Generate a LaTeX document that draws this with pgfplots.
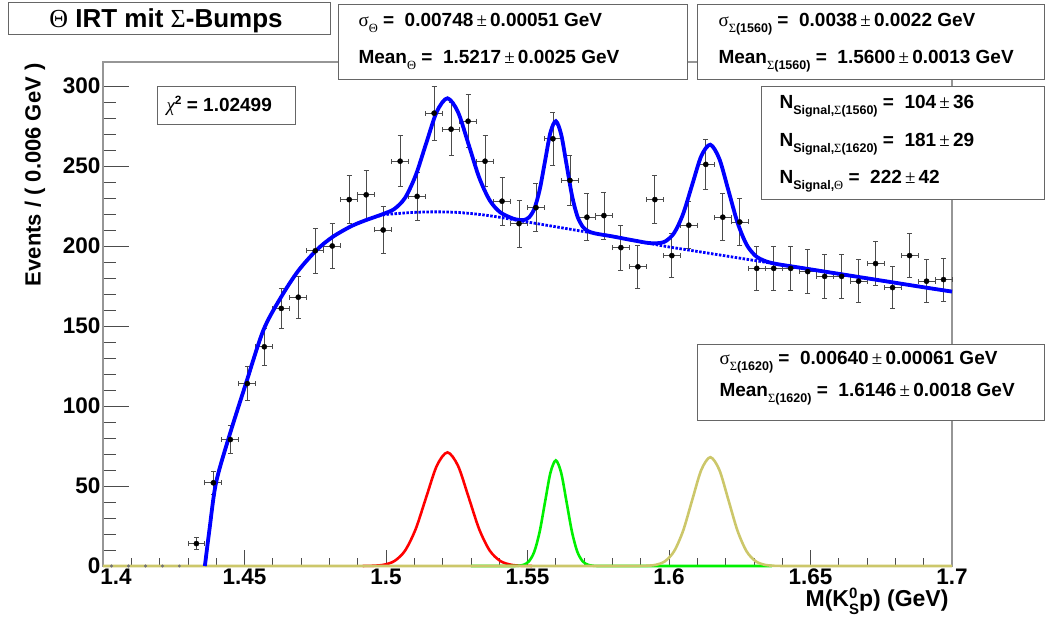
\documentclass[border=0pt]{standalone}
\usepackage{pgfplots}
\usepackage{pgfplotstable}
\pgfplotsset{compat=1.18}
\usepackage{fontspec}
\setmainfont{Liberation Sans}
\newfontfamily\grk{Liberation Serif}
\newcommand{\G}[1]{{\grk\mdseries #1}}
\newcommand{\sub}[1]{\raisebox{-6pt}{\fontsize{12.5}{13}\selectfont #1}}
\newcommand{\pmm}{\,{\grk\mdseries ±}\,}
\newcommand{\bxf}{\fontsize{19}{22}\selectfont\bfseries}
\definecolor{rblue}{RGB}{0,0,255}
\definecolor{rred}{RGB}{255,0,0}
\definecolor{rgreen}{RGB}{0,240,0}
\definecolor{rkhaki}{RGB}{204,199,106}
\definecolor{frame}{RGB}{150,150,150}

\pgfplotstableread{
x y ey
1.433 14 3.74
1.439 52 7.21
1.445 79 8.89
1.451 114 10.68
1.457 137 11.70
1.463 161 12.69
1.469 168 12.96
1.475 197 14.04
1.481 200 14.14
1.487 229 15.13
1.493 232 15.23
1.499 210 14.49
1.505 253 15.91
1.511 231 15.20
1.517 283 16.82
1.523 273 16.52
1.529 278 16.67
1.535 253 15.91
1.541 228 15.10
1.547 214 14.63
1.553 224 14.97
1.559 267 16.34
1.565 241 15.52
1.571 218 14.76
1.577 219 14.80
1.583 199 14.11
1.589 187 13.67
1.595 229 15.13
1.601 194 13.93
1.607 213 14.59
1.613 251 15.84
1.619 218 14.76
1.625 215 14.66
1.631 186 13.64
1.637 186 13.64
1.643 186 13.64
1.649 184 13.56
1.655 181 13.45
1.661 181 13.45
1.667 178 13.34
1.673 189 13.75
1.679 174 13.19
1.685 194 13.93
1.691 178 13.34
1.697 179 13.38
}\data

\begin{document}
\begin{tikzpicture}
\useasboundingbox (0,0) rectangle (1046pt,626pt);
% y ticks (long inward ticks)
\begin{axis}[at={(103pt,60pt)},anchor=south west,scale only axis,
  width=849pt,height=504pt,
  xmin=1.4,xmax=1.7,ymin=0,ymax=315,
  xtick=\empty,
  ytick={0,50,100,150,200,250,300},
  yticklabels={0,50,100,150,200,250,300},
  minor y tick num=4, ytick pos=left, tick align=inside,
  major tick length=26pt, minor tick length=13pt,
  axis line style={frame,line width=1.2pt},
  tick style={black!70,line width=0.8pt},
  yticklabel style={font=\fontsize{22.5}{23}\selectfont\bfseries, xshift=1pt}]
\end{axis}
% main axis with data and x ticks
\begin{axis}[at={(103pt,60pt)},anchor=south west,scale only axis,
  width=849pt,height=504pt,
  xmin=1.4,xmax=1.7,ymin=0,ymax=315,
  ytick=\empty,
  xtick={1.4,1.45,1.5,1.55,1.6,1.65,1.7},
  xticklabels={\hspace*{26pt}1.4,1.45,1.5,1.55,1.6,1.65,1.7},
  minor x tick num=4, xtick pos=left, tick align=inside,
  major tick length=16pt, minor tick length=8pt,
  axis line style={frame,line width=1.2pt},
  tick style={black!70,line width=0.8pt},
  xticklabel style={font=\fontsize{22.5}{23}\selectfont\bfseries, yshift=1pt},
  clip=false]
% empty bins
\addplot[only marks, mark=*, mark size=1.3pt, black!55]
  coordinates {(1.403,0)(1.409,0)(1.415,0)(1.421,0)(1.427,0)};
% data
\addplot[only marks, mark=*, mark size=2.6pt, black,
  error bars/.cd, x dir=both, x fixed=0.003, y dir=both, y explicit,
  error bar style={black!70,line width=0.8pt},
  error mark options={black!70,line width=0.8pt,mark size=2.5pt,rotate=90}]
  table[x=x,y=y,y error=ey]{\data};
% Theta gaussian
\addplot[rred, line width=2.6pt, smooth] coordinates {
(1.49178,0.024)(1.49552,0.155)(1.49926,0.79)(1.503,3.12)
(1.50674,9.61)(1.51048,23.05)(1.51422,43.06)(1.51796,62.66)(1.5217,71)
(1.52544,62.66)(1.52918,43.06)(1.53292,23.05)(1.53666,9.61)(1.5404,3.12)
(1.54414,0.79)(1.54788,0.155)(1.55162,0.024)};
% Sigma(1560) gaussian
\addplot[rgreen, line width=2.6pt, smooth] coordinates {
(1.53,0)(1.5448,0.022)(1.5467,0.144)(1.5486,0.733)(1.5505,2.90)
(1.5524,8.93)(1.5543,21.43)(1.5562,40.03)(1.5581,58.25)(1.56,66)
(1.5619,58.25)(1.5638,40.03)(1.5657,21.43)(1.5676,8.93)(1.5695,2.90)
(1.5714,0.733)(1.5733,0.144)(1.5752,0.022)(1.59,0)(1.6364,0)};
% Sigma(1620) gaussian
\addplot[rkhaki, line width=2.6pt, smooth] coordinates {
(1.4,0)(1.5,0)(1.575,0)(1.5890,0.023)(1.5922,0.149)(1.5954,0.755)(1.5986,2.99)
(1.6018,9.20)(1.6050,22.08)(1.6082,41.24)(1.6114,60.01)(1.6146,68)
(1.6178,60.01)(1.6210,41.24)(1.6242,22.08)(1.6274,9.20)(1.6306,2.99)
(1.6338,0.755)(1.6370,0.149)(1.6402,0.023)(1.655,0)(1.7,0)};
% background (dotted)
\addplot[rblue, line width=2.8pt, dash pattern=on 2.5pt off 1.5pt, smooth] coordinates {
(1.4360,0)(1.4376,22.5)(1.4399,51.7)(1.4443,79.4)(1.4504,113.5)(1.4567,147.5)
(1.4630,168.3)(1.4690,184.5)(1.4755,197.5)(1.4810,205.5)(1.4873,212)
(1.4930,216.3)(1.4990,219.4)(1.505,220.4)(1.510,221)(1.515,221.3)(1.520,221.3)
(1.525,221)(1.530,220.3)(1.535,219.3)(1.540,218)(1.545,216.5)(1.550,215)
(1.555,213.5)(1.560,212)(1.565,210.5)(1.570,209)(1.575,207.5)(1.580,206)
(1.585,204.3)(1.590,202.6)(1.595,201)(1.600,199.4)(1.605,198)(1.610,196.6)
(1.615,195.2)(1.620,193.8)(1.625,192.4)(1.630,191)(1.640,188.2)(1.650,185.4)
(1.660,182.6)(1.670,179.8)(1.680,177)(1.690,174.2)(1.700,171.5)};
% total fit
\addplot[rblue, line width=3.8pt, smooth] coordinates {
(1.4360,0)(1.4376,22.5)(1.4399,51.7)(1.4443,79.4)(1.4504,113.5)(1.4567,147.5)
(1.4630,168.3)(1.4690,184.5)(1.4755,197.5)(1.4810,205.5)(1.4873,212)
(1.49178,215.4)(1.49552,217.8)(1.49926,220.2)(1.50300,223.2)(1.50674,230.1)
(1.51048,244.1)(1.51422,264.3)(1.51796,284.0)(1.52170,292.3)(1.52544,283.7)
(1.52918,263.5)(1.53292,242.8)(1.53666,228.5)(1.54040,221.0)(1.5448,217.2)
(1.5467,216.4)(1.5486,216.2)(1.5505,217.8)(1.5524,223.2)(1.5543,235.1)
(1.5562,253.1)(1.5581,270.9)(1.5600,278.0)(1.5619,269.7)(1.5638,250.9)
(1.5657,231.7)(1.5676,218.7)(1.5695,212.1)(1.5714,209.3)(1.5733,208.1)
(1.5752,207.4)(1.580,206)(1.585,204.3)(1.5890,203.0)(1.5922,202.0)
(1.5954,201.7)(1.5986,202.8)(1.6018,208.1)(1.6050,220.1)(1.6082,238.3)
(1.6114,256.2)(1.6146,263.3)(1.6178,254.4)(1.6210,234.7)(1.6242,214.7)
(1.6274,200.9)(1.6306,193.8)(1.6338,190.7)(1.6370,189.1)(1.6402,188.1)
(1.645,186.8)(1.650,185.4)(1.660,182.6)(1.670,179.8)(1.680,177)(1.690,174.2)
(1.700,171.5)};
\end{axis}
% axis titles
\node[rotate=90, anchor=east, font=\fontsize{22}{22}\selectfont\bfseries]
  at (35pt,566pt) {Events / ( 0.006 GeV )};
\node[anchor=base east, font=\fontsize{23}{23}\selectfont\bfseries] at (952pt,19pt)
  {M(K\rlap{\raisebox{9pt}{\fontsize{15}{15}\selectfont 0}}\raisebox{-7pt}{\fontsize{15}{15}\selectfont S}p) (GeV)};
% boxes
\tikzset{rbox/.style={draw=black!60, line width=1pt, fill=white}}
\draw[rbox] (8pt,591pt) rectangle (330pt,623pt);
\node[anchor=base, font=\fontsize{26}{26}\selectfont\bfseries] at (166pt,598pt)
  {\G{Θ} IRT mit \G{Σ}-Bumps};
\draw[rbox] (338pt,546pt) rectangle (687pt,621pt);
\node[anchor=base west, font=\bxf] at (355pt,599pt)
  {\G{σ}\sub{\G{Θ}} = \ 0.00748\pmm0.00051 GeV};
\node[anchor=base west, font=\bxf] at (355pt,562pt)
  {Mean\sub{\G{Θ}} = \ 1.5217\pmm0.0025 GeV};
\draw[rbox] (697pt,546pt) rectangle (1044pt,621pt);
\node[anchor=base west, font=\bxf] at (715pt,599pt)
  {\G{σ}\sub{\G{Σ}(1560)} = \ 0.0038\pmm0.0022 GeV};
\node[anchor=base west, font=\bxf] at (715pt,562pt)
  {Mean\sub{\G{Σ}(1560)} = \ 1.5600\pmm0.0013 GeV};
\draw[rbox] (761pt,426pt) rectangle (1044pt,539pt);
\node[anchor=base west, font=\bxf] at (776pt,517pt)
  {N\sub{Signal,\G{Σ}(1560)} = \ 104\pmm36};
\node[anchor=base west, font=\bxf] at (776pt,479pt)
  {N\sub{Signal,\G{Σ}(1620)} = \ 181\pmm29};
\node[anchor=base west, font=\bxf] at (776pt,442pt)
  {N\sub{Signal,\G{Θ}} = \ 222\pmm42};
\draw[rbox] (697pt,205pt) rectangle (1044pt,281pt);
\node[anchor=base west, font=\bxf] at (716pt,261pt)
  {\G{σ}\sub{\G{Σ}(1620)} = \ 0.00640\pmm0.00061 GeV};
\node[anchor=base west, font=\bxf] at (716pt,229pt)
  {Mean\sub{\G{Σ}(1620)} = \ 1.6146\pmm0.0018 GeV};
\draw[rbox] (157pt,501pt) rectangle (295pt,539pt);
\node[anchor=base west, font=\fontsize{19}{19}\selectfont\bfseries] at (163pt,514pt)
  {\G{\itshape χ}\raisebox{7pt}{\fontsize{12}{12}\selectfont 2} = 1.02499};
\end{tikzpicture}
\end{document}
